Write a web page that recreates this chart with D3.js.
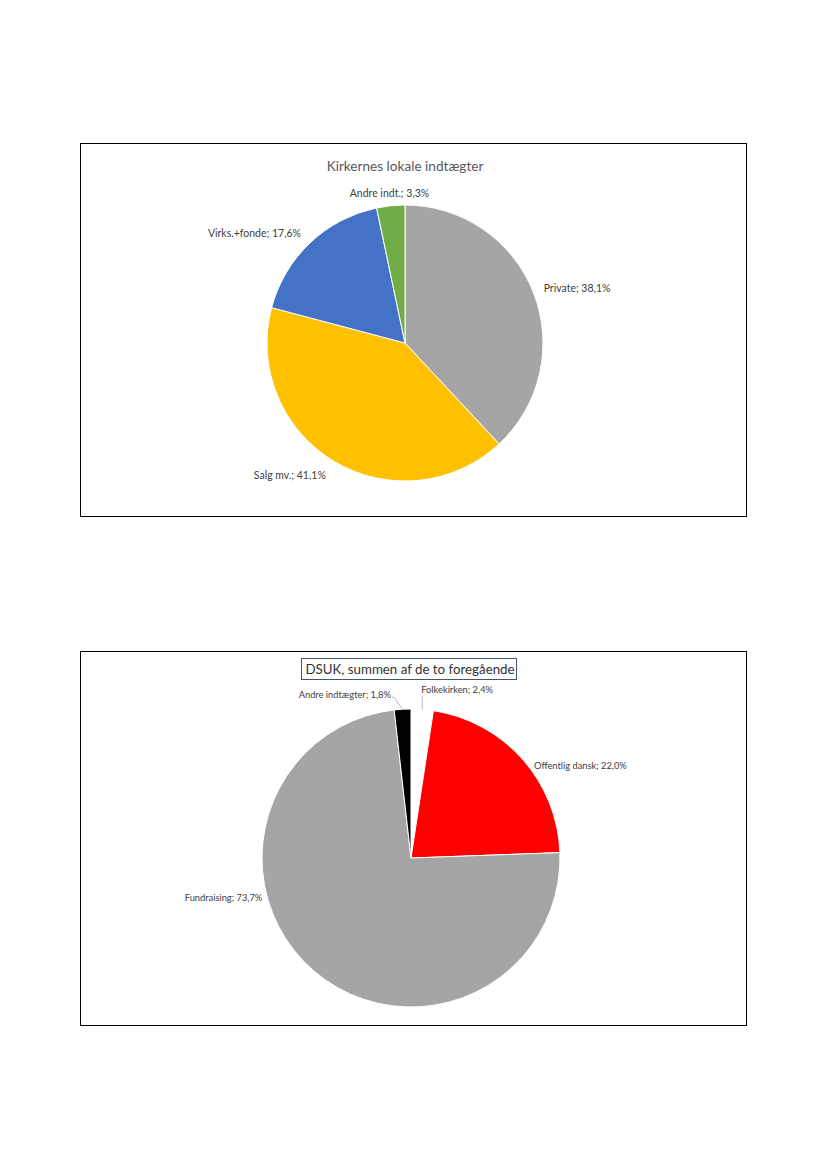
<!DOCTYPE html>
<html>
<head>
<meta charset="utf-8">
<script src="https://cdn.jsdelivr.net/npm/d3@7"></script>
<style>
  body { margin: 0; background: #fff; }
  text { font-family: Lato, "Liberation Sans", sans-serif; }
</style>
</head>
<body>
<script>
// top chart data
var kirkeCats = ['Private', 'Salg mv.', 'Virks.+fonde', 'Andre indt.'];
var kirkeVals = [38.1, 41.1, 17.6, 3.3];
var kirkeLabels = ['38,1%', '41,1%', '17,6%', '3,3%'];
var kirkeColors = ['#a5a5a5', '#ffc000', '#4472c4', '#70ad47'];

// bottom chart data
var dsukCats = ['Folkekirken', 'Offentlig dansk', 'Fundraising', 'Andre indtægter'];
var dsukVals = [2.4, 22.0, 73.7, 1.8];
var dsukLabels = ['2,4%', '22,0%', '73,7%', '1,8%'];
var dsukColors = ['#ffffff', '#ff0000', '#a5a5a5', '#000000'];

var width = 827;
var height = 1169;

var svg = d3.select('body')
            .append('svg')
            .attr('width', width)
            .attr('height', height);

// label placement: angle (deg, null = slice middle), radius, anchor, leader
var kirkeLayout = [
  {angle: null, r: 149, anchor: 'start'},
  {angle: null, r: 154, anchor: 'end'},
  {angle: null, r: 151, anchor: 'end'},
  {angle: null, r: 150, anchor: 'middle'}
];
var dsukLayout = [
  {angle: null, r: 169, anchor: 'start', dx: -2, leader: 'up'},
  {angle: 53, r: 154, anchor: 'start'},
  {angle: 255, r: 154, anchor: 'end'},
  {angle: 353, r: 165, anchor: 'end', leader: 'elbow'}
];

var drawPie = function(opt) {
  var g = svg.append('g');

  g.append('rect')
    .attr('x', opt.frame[0] + 0.5)
    .attr('y', opt.frame[1] + 0.5)
    .attr('width', opt.frame[2])
    .attr('height', opt.frame[3])
    .attr('fill', '#fff')
    .attr('stroke', '#000')
    .attr('stroke-width', 1);

  var pie = d3.pie().sort(null).value(function(d) { return d; });
  var arcs = pie(opt.values);
  var arc = d3.arc().innerRadius(0).outerRadius(opt.radius);

  var pg = g.append('g')
    .attr('transform', 'translate(' + opt.cx + ',' + opt.cy + ')');

  pg.selectAll('path')
    .data(arcs)
    .enter()
    .append('path')
    .attr('d', arc)
    .attr('fill', function(d, i) { return opt.colors[i]; })
    .attr('stroke', '#fff')
    .attr('stroke-width', 1);

  arcs.forEach(function(d, i) {
    var lay = opt.layout[i];
    var mid = (d.startAngle + d.endAngle) / 2;
    var a = lay.angle === null ? mid : lay.angle * Math.PI / 180;
    var lx = Math.sin(a) * lay.r + (lay.dx || 0);
    var ly = -Math.cos(a) * lay.r;
    var ex = Math.sin(mid) * opt.radius;
    var ey = -Math.cos(mid) * opt.radius;

    if (lay.leader === 'up') {
      lx = ex - 1;
      pg.append('path')
        .attr('d', 'M' + ex + ',' + ey + 'V' + (ly + 7))
        .attr('fill', 'none')
        .attr('stroke', '#a6a6a6')
        .attr('stroke-width', 0.8);
    } else if (lay.leader === 'elbow') {
      pg.append('path')
        .attr('d', 'M' + ex + ',' + ey + 'L' + (lx + 3) + ',' + (ly + 3) + 'L' + (lx + 1) + ',' + (ly + 3))
        .attr('fill', 'none')
        .attr('stroke', '#a6a6a6')
        .attr('stroke-width', 0.8);
    }

    pg.append('text')
      .attr('x', lx)
      .attr('y', ly)
      .attr('dy', '0.35em')
      .attr('text-anchor', lay.anchor)
      .attr('font-size', opt.labelSize)
      .attr('fill', '#404040')
      .text(opt.cats[i] + '; ' + opt.labels[i]);
  });

  return g;
};

// Kirkernes lokale indtægter
var kirkeChart = drawPie({
  frame: [80, 143, 666, 373],
  cx: 405, cy: 343, radius: 138,
  values: kirkeVals, cats: kirkeCats, labels: kirkeLabels, colors: kirkeColors,
  layout: kirkeLayout, labelSize: 10.5
});
kirkeChart.append('text')
  .attr('x', 405)
  .attr('y', 171)
  .attr('text-anchor', 'middle')
  .attr('font-size', 13.6)
  .attr('fill', '#595959')
  .text('Kirkernes lokale indtægter');

// DSUK, summen af de to foregående
var dsukChart = drawPie({
  frame: [80, 651, 666, 374],
  cx: 411, cy: 858, radius: 149,
  values: dsukVals, cats: dsukCats, labels: dsukLabels, colors: dsukColors,
  layout: dsukLayout, labelSize: 9.3
});
var titleBox = dsukChart.append('rect');
var title = dsukChart.append('text')
  .attr('x', 410)
  .attr('y', 674)
  .attr('text-anchor', 'middle')
  .attr('font-size', 13.3)
  .attr('fill', '#333333')
  .text('DSUK, summen af de to foregående');
var bb = title.node().getBBox();
titleBox
  .attr('x', Math.round(bb.x) - 3.5)
  .attr('y', 658.5)
  .attr('width', Math.round(bb.width) + 6)
  .attr('height', 21)
  .attr('fill', '#fff')
  .attr('stroke', '#44546a')
  .attr('stroke-width', 1);
</script>
</body>
</html>
